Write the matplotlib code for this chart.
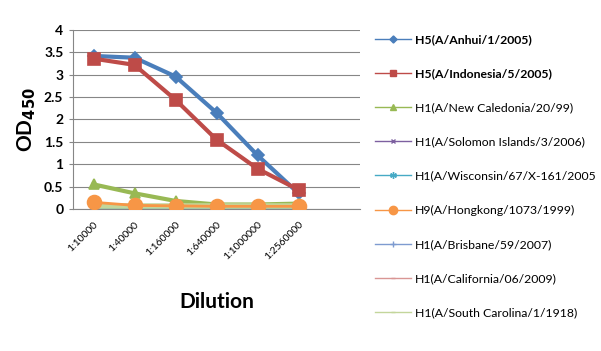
import matplotlib
matplotlib.use('Agg')
import matplotlib.pyplot as plt

plt.rcParams['font.family'] = ['Lato', 'DejaVu Sans']

dilutions = ['1:10000', '1:40000', '1:160000', '1:640000', '1:1000000', '1:2560000']

anhui = [3.42, 3.38, 2.96, 2.15, 1.20, 0.35]
indonesia = [3.36, 3.22, 2.44, 1.55, 0.90, 0.43]
new_caledonia = [0.55, 0.35, 0.18, 0.10, 0.10, 0.12]
solomon = [0.05, 0.05, 0.05, 0.05, 0.05, 0.05]
wisconsin = [0.01, 0.02, 0.02, 0.02, 0.02, 0.02]
hongkong = [0.15, 0.08, 0.07, 0.06, 0.06, 0.06]
brisbane = [0.10, 0.09, 0.08, 0.08, 0.08, 0.08]
california = [0.08, 0.07, 0.07, 0.07, 0.07, 0.07]
south_carolina = [0.06, 0.06, 0.06, 0.06, 0.06, 0.06]

series = [
    ('H5(A/Anhui/1/2005)', anhui, '#4A7EBB', 'D', 6, 3.0, True),
    ('H5(A/Indonesia/5/2005)', indonesia, '#BE4B48', 's', 8, 3.0, True),
    ('H1(A/New Caledonia/20/99)', new_caledonia, '#98B954', '^', 7, 3.0, False),
    ('H1(A/Solomon Islands/3/2006)', solomon, '#7D60A0', 'x', 6, 1.5, False),
    ('H1(A/Wisconsin/67/X-161/2005', wisconsin, '#46AAC5', (6, 2, 0), 8, 1.5, False),
    ('H9(A/Hongkong/1073/1999)', hongkong, '#F79646', 'o', 10, 2.0, False),
    ('H1(A/Brisbane/59/2007)', brisbane, '#7E9BD0', '+', 8, 1.5, False),
    ('H1(A/California/06/2009)', california, '#D99694', '_', 5, 1.5, False),
    ('H1(A/South Carolina/1/1918)', south_carolina, '#C3D69B', '_', 5, 4.0, False),
]

fig = plt.figure(figsize=(6.01, 3.51), dpi=100)
ax = fig.add_axes([0.1215, 0.4046, 0.4775, 0.51])

x = list(range(len(dilutions)))
for name, vals, col, mk, ms, lw, bold in series:
    # keep the orange circles visible on top of the flat low lines
    z = 2.6 if mk == 'o' else 2
    ax.plot(x, vals, color=col, marker=mk, markersize=ms, linewidth=lw,
            markeredgecolor=col, markeredgewidth=1.2, label=name, zorder=z)

ax.set_xlim(-0.5, 6.5)
ax.set_ylim(0, 4)
ax.set_yticks([0, 0.5, 1, 1.5, 2, 2.5, 3, 3.5, 4])
ax.set_yticklabels(['0', '0.5', '1', '1.5', '2', '2.5', '3', '3.5', '4'],
                   fontsize=10, fontweight='bold')
ax.set_xticks(x)
ax.set_xticklabels(dilutions, rotation=45, ha='right', va='top', fontsize=7.5,
                   rotation_mode='anchor')
ax.tick_params(axis='x', length=0, pad=8)
ax.tick_params(axis='y', length=3, color='#868686', pad=4)
ax.yaxis.grid(True, color='#868686', linewidth=0.8)
ax.set_axisbelow(True)
for s in ['top', 'right']:
    ax.spines[s].set_visible(False)
ax.spines['left'].set_color('#868686')
ax.spines['bottom'].set_color('#868686')

ax.set_ylabel(r'OD$_{\mathbf{450}}$', fontsize=15, fontweight='bold', labelpad=4)
ax.set_xlabel('Dilution', fontsize=15, fontweight='bold', labelpad=22)

leg_handles = []
for (name, vals, col, mk, ms, lw, bold) in series:
    h, = ax.plot([], [], color=col, marker=mk, markersize=ms * 0.6,
                 linewidth=1.0, markeredgecolor=col)
    leg_handles.append(h)
leg = fig.legend(leg_handles, [s[0] for s in series], loc='upper left',
                 bbox_to_anchor=(0.605, 0.935), frameon=False, fontsize=8.8,
                 labelspacing=1.9, handlelength=3.0, handletextpad=0.3)
for t, s in zip(leg.get_texts(), series):
    if s[6]:
        t.set_fontweight('bold')

fig.savefig('out.png', dpi=100)
